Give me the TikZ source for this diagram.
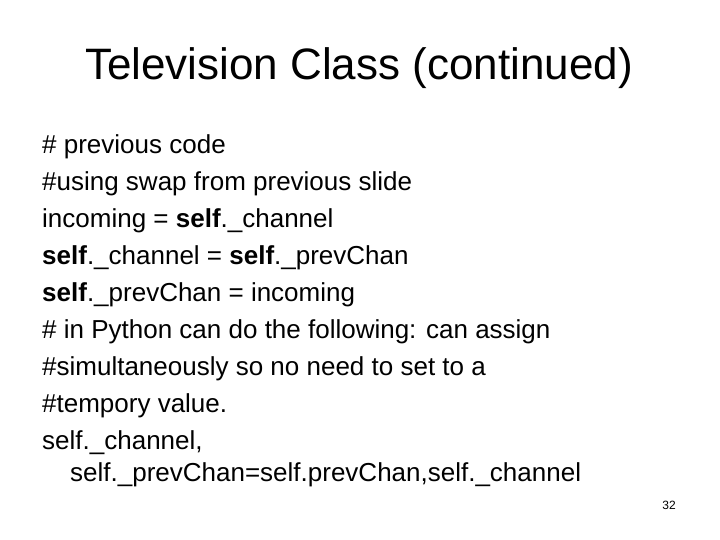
\documentclass[tikz,border=0pt]{standalone}
\usepackage{fontspec}
\setmainfont{Liberation Sans}
\usetikzlibrary{positioning}
\begin{document}
\begin{tikzpicture}[x=1pt, y=1pt,
    line_style/.style={anchor=west, inner sep=0pt, font=\fontsize{26}{30}\selectfont},
    title_style/.style={inner sep=0pt, font=\fontsize{44}{50}\selectfont}
]
    \useasboundingbox (0,0) rectangle (720,540);

    % Title
    \node[title_style] (title) at (359,472) {Television Class (continued)};

    % Body
    \node[line_style] (l1) at (42,393) {\# previous code};
    \node[line_style] (l2) at (42,356) {\#using swap from previous slide};
    \node[line_style] (l3) at (42,319) {incoming = \textbf{self}.\_channel};
    \node[line_style] (l4) at (42,282) {\textbf{self}.\_channel = \textbf{self}.\_prevChan};
    \node[line_style] (l5) at (42,245) {\textbf{self}.\_prevChan = incoming};
    \node[line_style] (l6) at (42,208) {\# in Python can do the following: can assign};
    \node[line_style] (l7) at (42,171) {\#simultaneously so no need to set to a};
    \node[line_style] (l8) at (42,134) {\#tempory value.};
    \node[line_style] (l9) at (42,97) {self.\_channel,};
    \node[line_style] (l10) at (70,65) {self.\_prevChan=self.prevChan,self.\_channel};

    % Page number
    \node[inner sep=0pt, font=\fontsize{12}{14}\selectfont] (page) at (669,35) {32};
\end{tikzpicture}
\end{document}
